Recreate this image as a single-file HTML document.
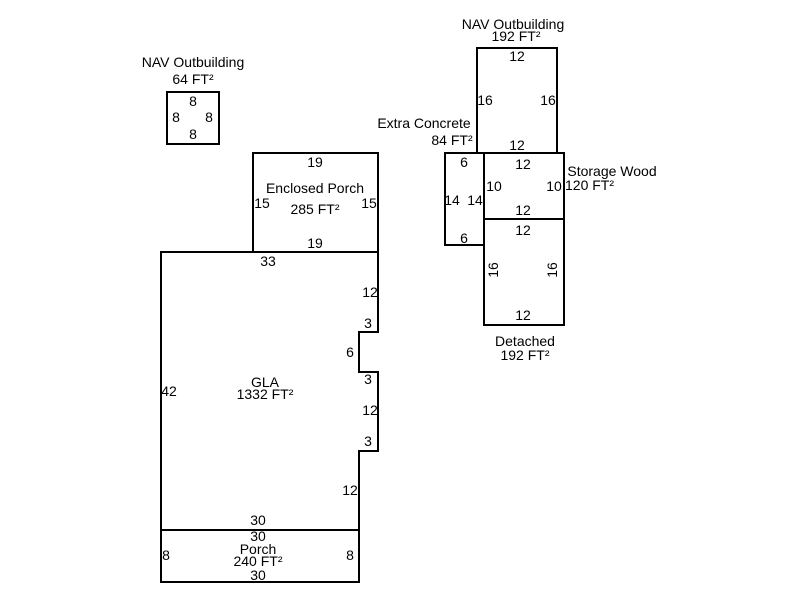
<!DOCTYPE html>
<html><head><style>
html,body{margin:0;padding:0;background:#fff;}
svg{display:block;}
text{font-family:"Liberation Sans",Arial,sans-serif;font-size:14px;fill:#000;}
</style></head><body>
<svg width="800" height="600" viewBox="0 0 800 600" xmlns="http://www.w3.org/2000/svg">
<g fill="none" stroke="#000" stroke-width="2">
<rect x="167" y="92" width="52" height="52"/>
<rect x="253" y="153" width="125" height="99"/>
<path d="M161 252 H378 V332 H359 V372 H378 V451 H359 V582 H161 Z"/>
<line x1="161" y1="530" x2="359" y2="530"/>
<rect x="477" y="48" width="80" height="105"/>
<rect x="445" y="153" width="39" height="92"/>
<rect x="484" y="153" width="80" height="66"/>
<rect x="484" y="219" width="80" height="106"/>
</g>
<g text-anchor="middle">
<text x="193" y="67">NAV Outbuilding</text>
<text x="193" y="84">64 FT²</text>
<text x="193" y="106">8</text>
<text x="176" y="122">8</text>
<text x="209" y="122">8</text>
<text x="193" y="139">8</text>

<text x="315" y="167">19</text>
<text x="315" y="193">Enclosed Porch</text>
<text x="315" y="214">285 FT²</text>
<text x="262" y="208">15</text>
<text x="369" y="208">15</text>
<text x="315" y="248">19</text>

<text x="268" y="266">33</text>
<text x="370" y="297">12</text>
<text x="368" y="328">3</text>
<text x="350" y="357">6</text>
<text x="368" y="384">3</text>
<text x="370" y="415">12</text>
<text x="368" y="446">3</text>
<text x="350" y="495">12</text>
<text x="169" y="396">42</text>
<text x="265" y="387">GLA</text>
<text x="265" y="399">1332 FT²</text>
<text x="258" y="525">30</text>
<text x="258" y="541">30</text>
<text x="258" y="554">Porch</text>
<text x="258" y="566">240 FT²</text>
<text x="258" y="580">30</text>
<text x="166" y="560">8</text>
<text x="350" y="560">8</text>

<text x="513" y="29">NAV Outbuilding</text>
<text x="516" y="41">192 FT²</text>
<text x="517" y="61">12</text>
<text x="485" y="105">16</text>
<text x="548" y="105">16</text>
<text x="517" y="150">12</text>

<text x="424" y="128">Extra Concrete</text>
<text x="452" y="145">84 FT²</text>
<text x="464" y="167">6</text>
<text x="452" y="205">14</text>
<text x="475" y="205">14</text>
<text x="464" y="243">6</text>

<text x="523" y="169">12</text>
<text x="494" y="191">10</text>
<text x="554" y="191">10</text>
<text x="523" y="215">12</text>
<text x="612" y="176">Storage Wood</text>
<text x="565" y="190" text-anchor="start">120 FT²</text>

<text x="523" y="235">12</text>
<text x="523" y="320">12</text>
<text x="0" y="0" transform="translate(498,270) rotate(-90)">16</text>
<text x="0" y="0" transform="translate(557,270) rotate(-90)">16</text>
<text x="525" y="346">Detached</text>
<text x="525" y="360">192 FT²</text>
</g>
</svg>
</body></html>
